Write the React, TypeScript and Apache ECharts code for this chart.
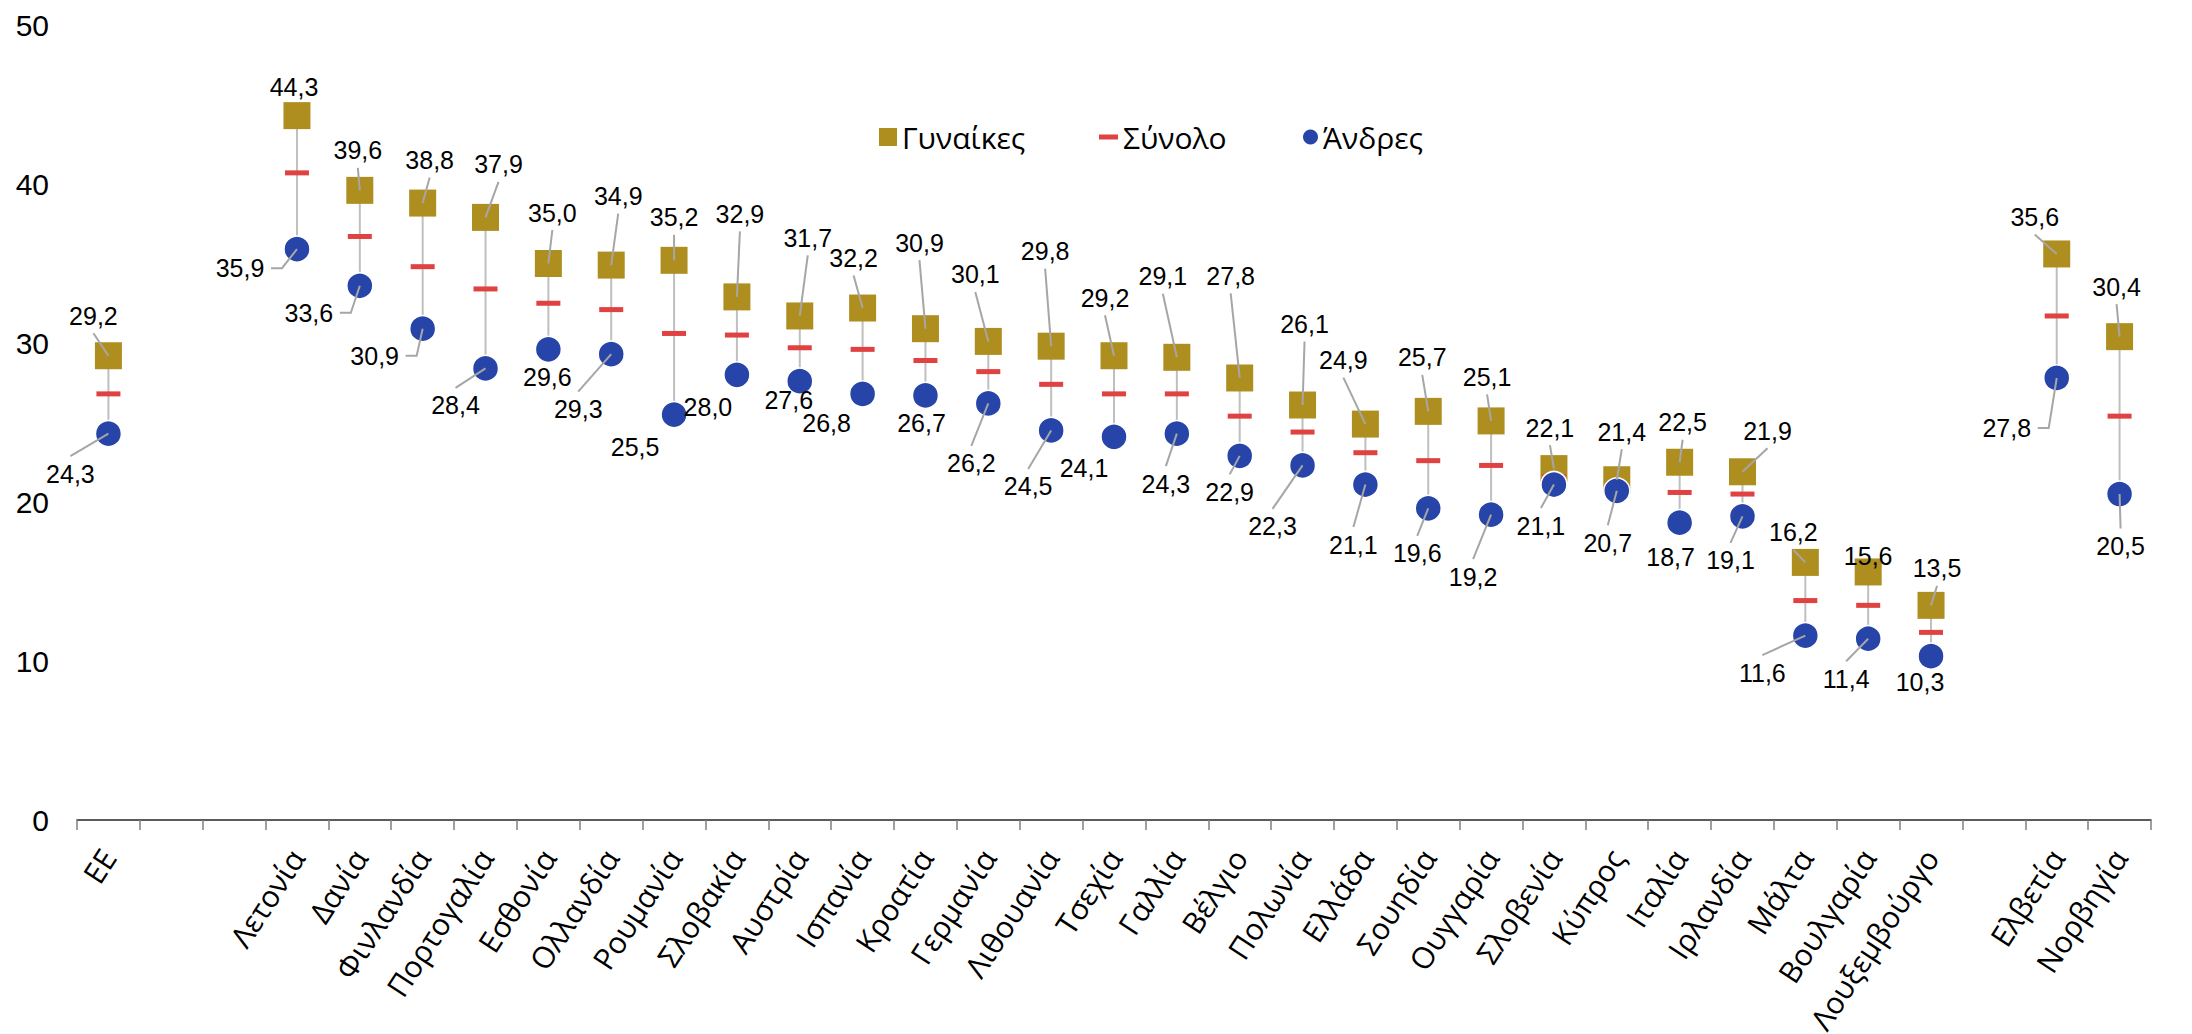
import React, { useEffect, useRef } from "react";
import * as echarts from "echarts";

// ---------- data ----------
const categories: string[] = [
  "ΕΕ", "", "", "Λετονία", "Δανία", "Φινλανδία", "Πορτογαλία", "Εσθονία", "Ολλανδία",
  "Ρουμανία", "Σλοβακία", "Αυστρία", "Ισπανία", "Κροατία", "Γερμανία", "Λιθουανία",
  "Τσεχία", "Γαλλία", "Βέλγιο", "Πολωνία", "Ελλάδα", "Σουηδία", "Ουγγαρία", "Σλοβενία",
  "Κύπρος", "Ιταλία", "Ιρλανδία", "Μάλτα", "Βουλγαρία", "Λουξεμβούργο", "", "Ελβετία", "Νορβηγία",
];

const women: (number | null)[] = [
  29.2, null, null, 44.3, 39.6, 38.8, 37.9, 35.0, 34.9, 35.2, 32.9, 31.7, 32.2, 30.9, 30.1, 29.8,
  29.2, 29.1, 27.8, 26.1, 24.9, 25.7, 25.1, 22.1, 21.4, 22.5, 21.9, 16.2, 15.6, 13.5, null, 35.6, 30.4,
];

const total: (number | null)[] = [
  26.8, null, null, 40.7, 36.7, 34.8, 33.4, 32.5, 32.1, 30.6, 30.5, 29.7, 29.6, 28.9, 28.2, 27.4,
  26.8, 26.8, 25.4, 24.4, 23.1, 22.6, 22.3, 21.6, 21.0, 20.6, 20.5, 13.8, 13.5, 11.8, null, 31.7, 25.4,
];

const men: (number | null)[] = [
  24.3, null, null, 35.9, 33.6, 30.9, 28.4, 29.6, 29.3, 25.5, 28.0, 27.6, 26.8, 26.7, 26.2, 24.5,
  24.1, 24.3, 22.9, 22.3, 21.1, 19.6, 19.2, 21.1, 20.7, 18.7, 19.1, 11.6, 11.4, 10.3, null, 27.8, 20.5,
];

const seriesNames = ["Γυναίκες", "Σύνολο", "Άνδρες"];

// ---------- label placement (pixel offsets from the marker: dx, dy, leader line) ----------
const womenLabelPos: ([number, number, number] | null)[] = [
  [-15, -40, 1], null, null, [-3, -29, 0], [-2, -40, 1], [7, -43, 1], [13, -53, 1], [4, -51, 1],
  [7, -69, 1], [0, -43, 1], [3, -83, 1], [8, -78, 1], [-9, -50, 1], [-6, -86, 1], [-13, -67, 1],
  [-6, -95, 1], [-9, -58, 1], [-14, -81, 1], [-9, -102, 1], [2, -81, 1], [-22, -64, 1], [-6, -54, 1],
  [-4, -44, 1], [-4, -41, 1], [5, -48, 1], [3, -40, 1], [25, -41, 1], [-12, -30, 1], [0, -16, 0],
  [6, -37, 1], null, [-22, -37, 1], [-3, -50, 1],
];

const menLabelPos: ([number, number, number] | null)[] = [
  [-38, 40, 1], null, null, [-57, 19, 1], [-51, 27, 1], [-48, 27, 1], [-30, 37, 1], [-1, 28, 0],
  [-33, 55, 1], [-39, 32, 0], [-29, 32, 0], [-11, 19, 0], [-36, 29, 0], [-4, 28, 0], [-17, 60, 1],
  [-23, 56, 1], [-30, 31, 0], [-11, 50, 1], [-10, 36, 1], [-30, 61, 1], [-12, 60, 1], [-11, 45, 1],
  [-18, 62, 1], [-13, 41, 1], [-9, 52, 1], [-9, 34, 0], [-12, 44, 1], [-43, 37, 1], [-22, 40, 1],
  [-11, 26, 0], null, [-50, 50, 1], [1, 52, 1],
];

// ---------- styles ----------
const GOLD = "#AF8E20";
const RED = "#E04141";
const BLUE = "#2745A8";
const CONNECTOR = "#BFBFBF";
const LEADER = "#A6A6A6";
const NUM_FONT = '"Liberation Sans", Arial, sans-serif';
const TEXT_FONT = '"Open Sans", "Noto Sans", sans-serif';
const LABEL_FS = 25;

function fmt(v: number): string {
  return v.toFixed(1).replace(".", ",");
}

function labelSeries(values: (number | null)[], pos: ([number, number, number] | null)[], id: string) {
  const data: number[][] = [];
  values.forEach((v, i) => {
    const p = pos[i];
    if (v != null && p) data.push([i, v, p[0], p[1], p[2]]);
  });
  return {
    type: "custom",
    id,
    silent: true,
    z: 10,
    dimensions: ["x", "y", "dx", "dy", "ln"],
    encode: { x: 0, y: 1 },
    renderItem: (_params: any, api: any) => {
      const i = api.value(0);
      const v = api.value(1);
      const dx = api.value(2);
      const dy = api.value(3);
      const ln = api.value(4);
      const c = api.coord([i, v]);
      const cx = c[0];
      const cy = c[1];
      const lx = cx + dx;
      const ly = cy + dy;
      const text = fmt(v);
      const children: any[] = [];
      if (ln) {
        const w = text.length * 0.5 * LABEL_FS;
        let pts: number[][];
        if (Math.abs(dx) > 45) {
          const s = dx < 0 ? 1 : -1;
          const sx = lx + s * (w / 2 + 6);
          pts = [[sx, ly], [sx + s * 11, ly], [cx, cy]];
        } else {
          const s = dy < 0 ? 1 : -1;
          const sy = ly + s * (LABEL_FS * 0.5 + 5);
          pts = [[lx, sy], [cx, cy]];
        }
        children.push({
          type: "polyline",
          shape: { points: pts },
          style: { stroke: LEADER, lineWidth: 2, fill: null },
        });
      }
      children.push({
        type: "text",
        x: lx,
        y: ly,
        style: {
          text,
          fill: "#000",
          font: `${LABEL_FS}px ${NUM_FONT}`,
          align: "center",
          verticalAlign: "middle",
        },
      });
      return { type: "group", children };
    },
    data,
  };
}

function connectorSeries() {
  const data: number[][] = [];
  women.forEach((w, i) => {
    const m = men[i];
    if (w != null && m != null) data.push([i, w, m]);
  });
  return {
    type: "custom",
    id: "connector",
    silent: true,
    z: 1,
    dimensions: ["x", "w", "m"],
    encode: { x: 0, y: [1, 2] },
    renderItem: (_params: any, api: any) => {
      const i = api.value(0);
      const a = api.coord([i, api.value(1)]);
      const b = api.coord([i, api.value(2)]);
      return {
        type: "line",
        shape: { x1: a[0], y1: a[1], x2: b[0], y2: b[1] },
        style: { stroke: CONNECTOR, lineWidth: 2 },
      };
    },
    data,
  };
}

const toPoints = (arr: (number | null)[]) =>
  arr.map((v, i) => (v == null ? null : [i, v])).filter((d) => d != null);

export default function App() {
  const ref = useRef<HTMLDivElement>(null);

  useEffect(() => {
    document.body.style.margin = "0";
    document.body.style.overflow = "hidden";
    if (!ref.current) return;
    const chart = echarts.init(ref.current, undefined, { renderer: "svg" });
    const legendText = { fontSize: 30, fontFamily: TEXT_FONT, color: "#000", lineHeight: 30 };
    chart.setOption({
      animation: false,
      backgroundColor: "#fff",
      grid: {
        left: 77,
        right: 41,
        top: 25,
        bottom: 214,
        containLabel: false,
        outerBoundsMode: "none",
      },
      legend: [
        {
          left: 879, top: 122, padding: 0, itemWidth: 18, itemHeight: 18,
          data: [{ name: seriesNames[0], icon: "rect" }], textStyle: legendText, selectedMode: false,
        },
        {
          left: 1099, top: 122, padding: 0, itemWidth: 19, itemHeight: 5,
          data: [{ name: seriesNames[1], icon: "rect" }], textStyle: legendText, selectedMode: false,
        },
        {
          left: 1303, top: 122, padding: 0, itemWidth: 15, itemHeight: 15,
          data: [{ name: seriesNames[2], icon: "circle", itemStyle: { borderWidth: 0 } }],
          textStyle: legendText, selectedMode: false,
        },
      ],
      xAxis: {
        type: "category",
        data: categories,
        boundaryGap: true,
        axisLine: { show: true, lineStyle: { color: "#262626", width: 1.5 } },
        axisTick: { show: true, interval: 0, length: 10, lineStyle: { color: "#7F7F7F", width: 1.5 } },
        axisLabel: {
          interval: 0,
          rotate: 57,
          margin: 32,
          padding: [10, 0, 0, 0],
          fontSize: 30,
          fontFamily: TEXT_FONT,
          color: "#000",
          hideOverlap: false,
        },
        splitLine: { show: false },
      },
      yAxis: {
        type: "value",
        min: 0,
        max: 50,
        interval: 10,
        axisLine: { show: false },
        axisTick: { show: false },
        splitLine: { show: false },
        axisLabel: { fontSize: 30, fontFamily: NUM_FONT, color: "#000", margin: 28 },
      },
      series: [
        connectorSeries(),
        {
          type: "scatter",
          name: seriesNames[0],
          z: 2,
          symbol: "rect",
          symbolSize: 27,
          itemStyle: { color: GOLD, opacity: 1 },
          data: toPoints(women),
        },
        {
          type: "scatter",
          name: seriesNames[1],
          z: 3,
          symbol: "rect",
          symbolSize: [24, 5],
          itemStyle: { color: RED, opacity: 1 },
          data: toPoints(total),
        },
        {
          type: "scatter",
          name: seriesNames[2],
          z: 4,
          symbol: "circle",
          symbolSize: 26,
          itemStyle: { color: BLUE, borderColor: "#fff", borderWidth: 1.5, opacity: 1 },
          data: toPoints(men),
        },
        labelSeries(women, womenLabelPos, "womenLabels"),
        labelSeries(men, menLabelPos, "menLabels"),
      ],
    });
    return () => chart.dispose();
  }, []);

  return (
    <div
      ref={ref}
      style={{
        position: "fixed",
        left: 0,
        top: 0,
        width: 2192,
        height: 1034,
        overflow: "hidden",
        background: "#fff",
      }}
    />
  );
}
